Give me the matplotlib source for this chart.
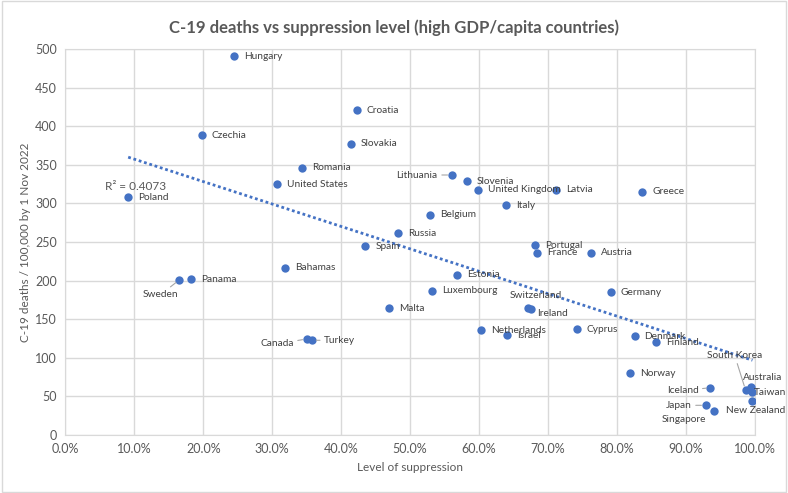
import matplotlib
matplotlib.use("Agg")
import matplotlib.pyplot as plt
from matplotlib.ticker import PercentFormatter
from matplotlib.patches import Rectangle
import numpy as np

# data
countries = ["Hungary", "Croatia", "Czechia", "Slovakia", "Romania", "United States",
             "Poland", "Lithuania", "Slovenia", "United Kingdom", "Latvia", "Greece",
             "Italy", "Belgium", "Russia", "Spain", "Portugal", "France", "Austria",
             "Bahamas", "Estonia", "Panama", "Sweden", "Luxembourg", "Germany", "Malta",
             "Switzerland", "Ireland", "Netherlands", "Israel", "Cyprus", "Canada",
             "Turkey", "Denmark", "Finland", "Norway", "Iceland", "South Korea",
             "Australia", "Taiwan", "New Zealand", "Japan", "Singapore"]
suppression = [0.245, 0.423, 0.198, 0.414, 0.343, 0.307,
               0.091, 0.5605, 0.583, 0.599, 0.712, 0.837,
               0.639, 0.5295, 0.4826, 0.435, 0.681, 0.685, 0.763,
               0.319, 0.568, 0.182, 0.165, 0.5315, 0.791, 0.4695,
               0.671, 0.675, 0.6035, 0.641, 0.742, 0.350,
               0.358, 0.826, 0.8575, 0.820, 0.936, 0.987,
               0.9945, 0.9964, 0.997, 0.929, 0.941]
deaths = [490.5, 420.6, 388.6, 377.3, 346.2, 325.1,
          307.9, 336.8, 329.0, 317.4, 317.4, 314.8,
          297.5, 285.4, 261.3, 244.8, 246.0, 236.1, 236.1,
          216.7, 207.6, 202.0, 200.8, 186.9, 185.2, 164.5,
          164.1, 163.6, 136.0, 129.1, 136.9, 124.4,
          122.7, 127.8, 120.1, 79.9, 61.3, 58.3,
          62.6, 55.7, 44.0, 38.5, 31.5]
r2_text = "R² = 0.4073"

# label placement: (dx px, dy px, ha, leader line)
label_pos = {
    "Lithuania": (-14, 0, "right", True),
    "Sweden": (-19, -15, "center", True),
    "Canada": (-13, -5, "right", True),
    "Turkey": (12, 0, "left", True),
    "Iceland": (-12, -3, "right", True),
    "Japan": (-14, 0, "right", True),
    "Singapore": (-30, -9, "center", False),
    "South Korea": (-11, 35, "center", True),
    "Australia": (12, 9, "center", False),
    "Taiwan": (2, 0, "left", False),
    "New Zealand": (3, -9, "center", False),
    "Switzerland": (8, 13, "center", False),
    "Ireland": (7, -5, "left", False),
}

blue = "#4472C4"
grey = "#595959"
plt.rcParams['font.family'] = ['Lato', 'DejaVu Sans']

fig = plt.figure(figsize=(7.88, 4.93), dpi=100)
ax = fig.add_axes([0.0831, 0.1176, 0.8744, 0.783])

# light chart border like the spreadsheet chart area
fig.patches.append(Rectangle((0.002, 0.003), 0.996, 0.994, transform=fig.transFigure,
                             fill=False, edgecolor="#d9d9d9", linewidth=1))

ax.scatter(suppression, deaths, s=36, color=blue, zorder=3, linewidths=0)

# linear trend line
coef = np.polyfit(suppression, deaths, 1)
xs = np.array([min(suppression), max(suppression)])
ax.plot(xs, np.polyval(coef, xs), color=blue, linestyle=(0, (1, 1)), linewidth=2, zorder=2)
ax.annotate(r2_text, xy=(xs[0], np.polyval(coef, xs[0])), xytext=(7, -29),
            textcoords="offset pixels", ha="center", va="center", fontsize=8.5, color=grey)

for name, x, y in zip(countries, suppression, deaths):
    dx, dy, ha, line = label_pos.get(name, (10, 0, "left", False))
    props = dict(arrowstyle="-", color="#a6a6a6", lw=0.8, shrinkA=1, shrinkB=3) if line else None
    ax.annotate(name, xy=(x, y), xytext=(dx, dy), textcoords="offset pixels",
                ha=ha, va="center", fontsize=7.3, color="#404040", arrowprops=props, zorder=4)

ax.set_xlim(0, 1)
ax.set_ylim(0, 500)
ax.set_xticks(np.arange(0, 1.01, 0.1))
ax.set_yticks(np.arange(0, 501, 50))
ax.xaxis.set_major_formatter(PercentFormatter(1.0, decimals=1))
ax.grid(True, color="#d9d9d9", linewidth=1)
ax.set_axisbelow(True)
for s in ax.spines.values():
    s.set_color("#d9d9d9")
ax.tick_params(length=0, labelsize=9, colors=grey, pad=6)

ax.set_xlabel("Level of suppression", fontsize=8.5, color=grey, labelpad=5)
ax.set_ylabel("C-19 deaths / 100,000 by 1 Nov 2022", fontsize=8.5, color=grey, labelpad=3)
fig.suptitle("C-19 deaths vs suppression level (high GDP/capita countries)",
             fontsize=12, fontweight="bold", color=grey, y=0.96)

fig.savefig("out.png", dpi=100)
